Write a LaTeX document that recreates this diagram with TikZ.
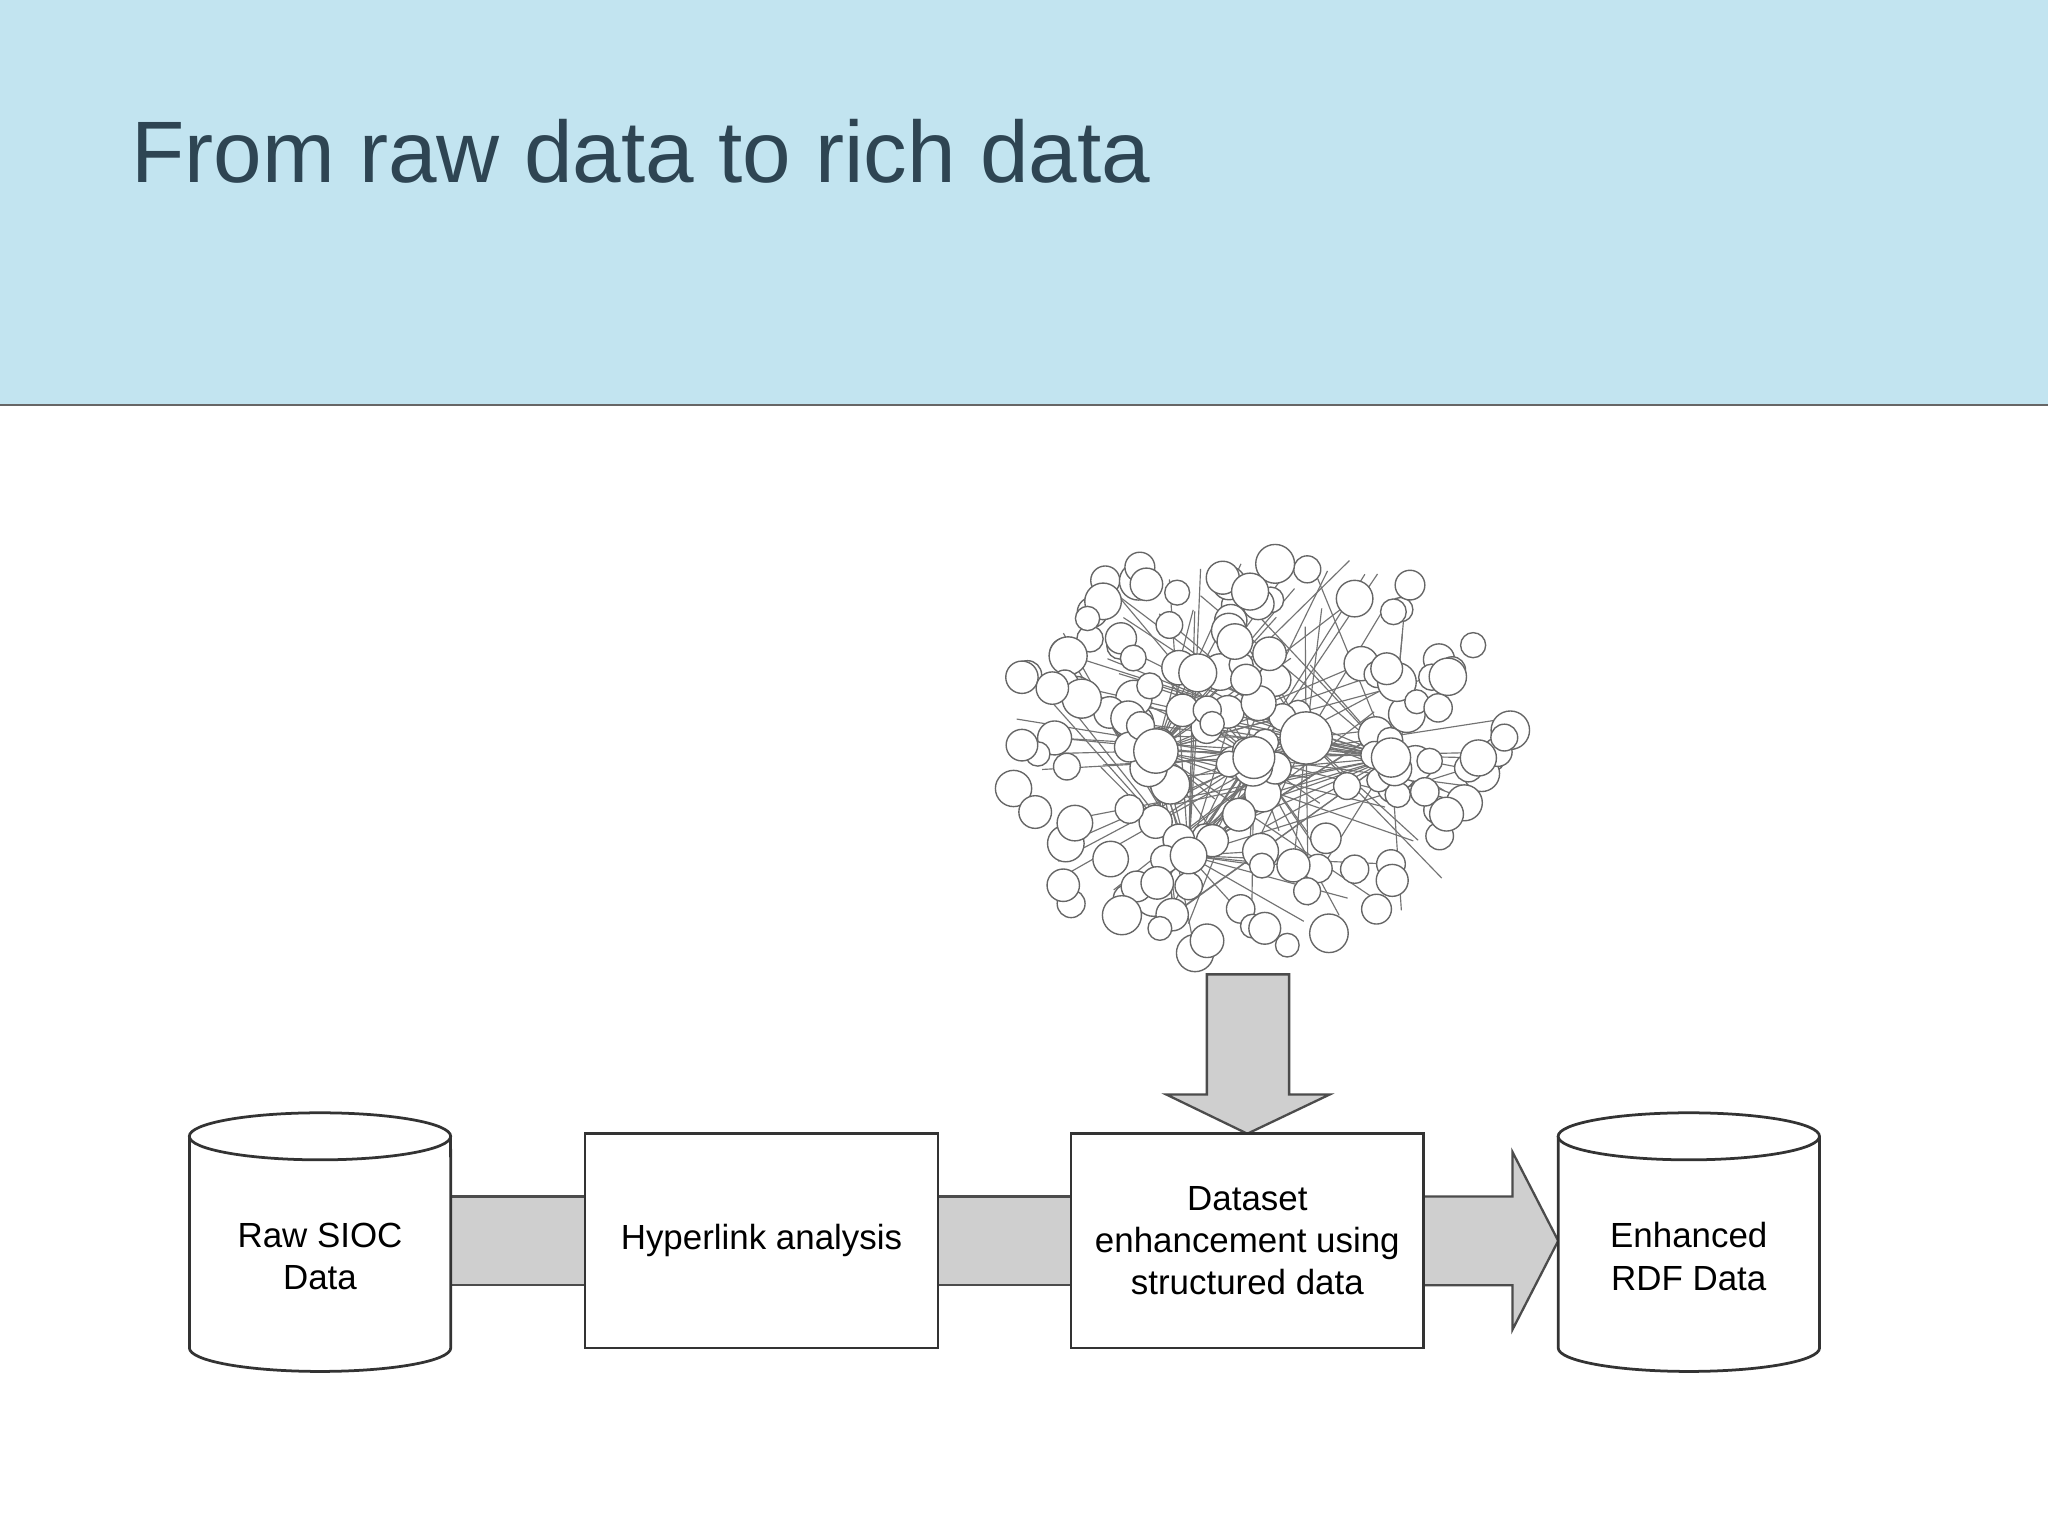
\documentclass[tikz,border=0pt]{standalone}
\usepackage{fontspec}
\setmainfont{Liberation Sans}
\definecolor{hdr}{HTML}{C2E4F0}
\definecolor{ttl}{HTML}{2E4553}
\definecolor{bar}{HTML}{CFCFCF}
\begin{document}
\begin{tikzpicture}[x=0.01cm,y=-0.01cm,
  lbl/.style={font=\fontsize{7.6}{9.2}\selectfont,align=center,text=black},
  gbar/.style={fill=bar,draw=black!70,line width=0.5pt},
  boxst/.style={draw=black!80,fill=white,line width=0.6pt}]
\useasboundingbox (0,0) rectangle (1568,1176);
\fill[white] (0,0) rectangle (1568,1176);
\fill[hdr] (0,0) rectangle (1568,310);
\draw[black!60,line width=0.6pt] (0,310) -- (1568,310);
\node[anchor=base west,text=ttl,font=\fontsize{19}{22}\selectfont,inner sep=0] (title) at (100,140) {From raw data to rich data};
% cloud
\pgfmathsetseed{11}
\foreach \i in {1,...,150}{
  \pgfmathsetmacro\a{rnd*360}\pgfmathsetmacro\r{sqrt(rnd)}
  \pgfmathsetmacro\px{955+205*\r*cos(\a)}\pgfmathsetmacro\py{575+160*\r*sin(\a)}
  \pgfmathsetmacro\hx{{885,960,1000,1065,910}[mod(\i,5)]}
  \pgfmathsetmacro\hy{{575,580,565,580,655}[mod(\i,5)]}
  \draw[black!55,line width=0.25pt] (\px,\py) -- (\hx,\hy);
}
\pgfmathsetseed{11}
\foreach \i in {1,...,150}{
  \pgfmathsetmacro\a{rnd*360}\pgfmathsetmacro\r{sqrt(rnd)}
  \pgfmathsetmacro\px{955+205*\r*cos(\a)}\pgfmathsetmacro\py{575+160*\r*sin(\a)}
  \pgfmathsetmacro\rad{0.09+0.06*rnd}
  \draw[black!60,fill=white,line width=0.3pt] (\px,\py) circle [radius=\rad cm];
}
\foreach \x/\y/\s in {885/575/0.17,1000/565/0.2,960/580/0.16,1065/580/0.15,910/655/0.14}
  \draw[black!60,fill=white,line width=0.3pt] (\x,\y) circle [radius=\s cm];
% down arrow
\draw[gbar] (924,746)--(987,746)--(987,838)--(1018,838)--(955,868)--(893,838)--(924,838)--cycle;
% bars
\draw[gbar] (345,916) rectangle (448,984);
\draw[gbar] (718,916) rectangle (820,984);
\draw[gbar] (1090,916)--(1158,916)--(1158,882)--(1193,950)--(1158,1018)--(1158,984)--(1090,984)--cycle;
% cylinders
\foreach \cx in {245,1293}{
  \draw[boxst] (\cx-100,870) -- (\cx-100,1032) arc (180:360:1cm and 0.18cm) -- (\cx+100,870);
  \draw[boxst] (\cx,870) ellipse [x radius=1cm, y radius=0.18cm];
}
\node[lbl] (raw) at (245,962) {Raw SIOC\\Data};
\node[lbl] (enh) at (1293,962) {Enhanced\\RDF Data};
\node[boxst,lbl,minimum width=2.7cm,minimum height=1.64cm] (hyp) at (583,950) {Hyperlink analysis};
\node[boxst,lbl,minimum width=2.7cm,minimum height=1.64cm] (ds) at (955,950) {Dataset\\enhancement using\\structured data};
\end{tikzpicture}
\end{document}
